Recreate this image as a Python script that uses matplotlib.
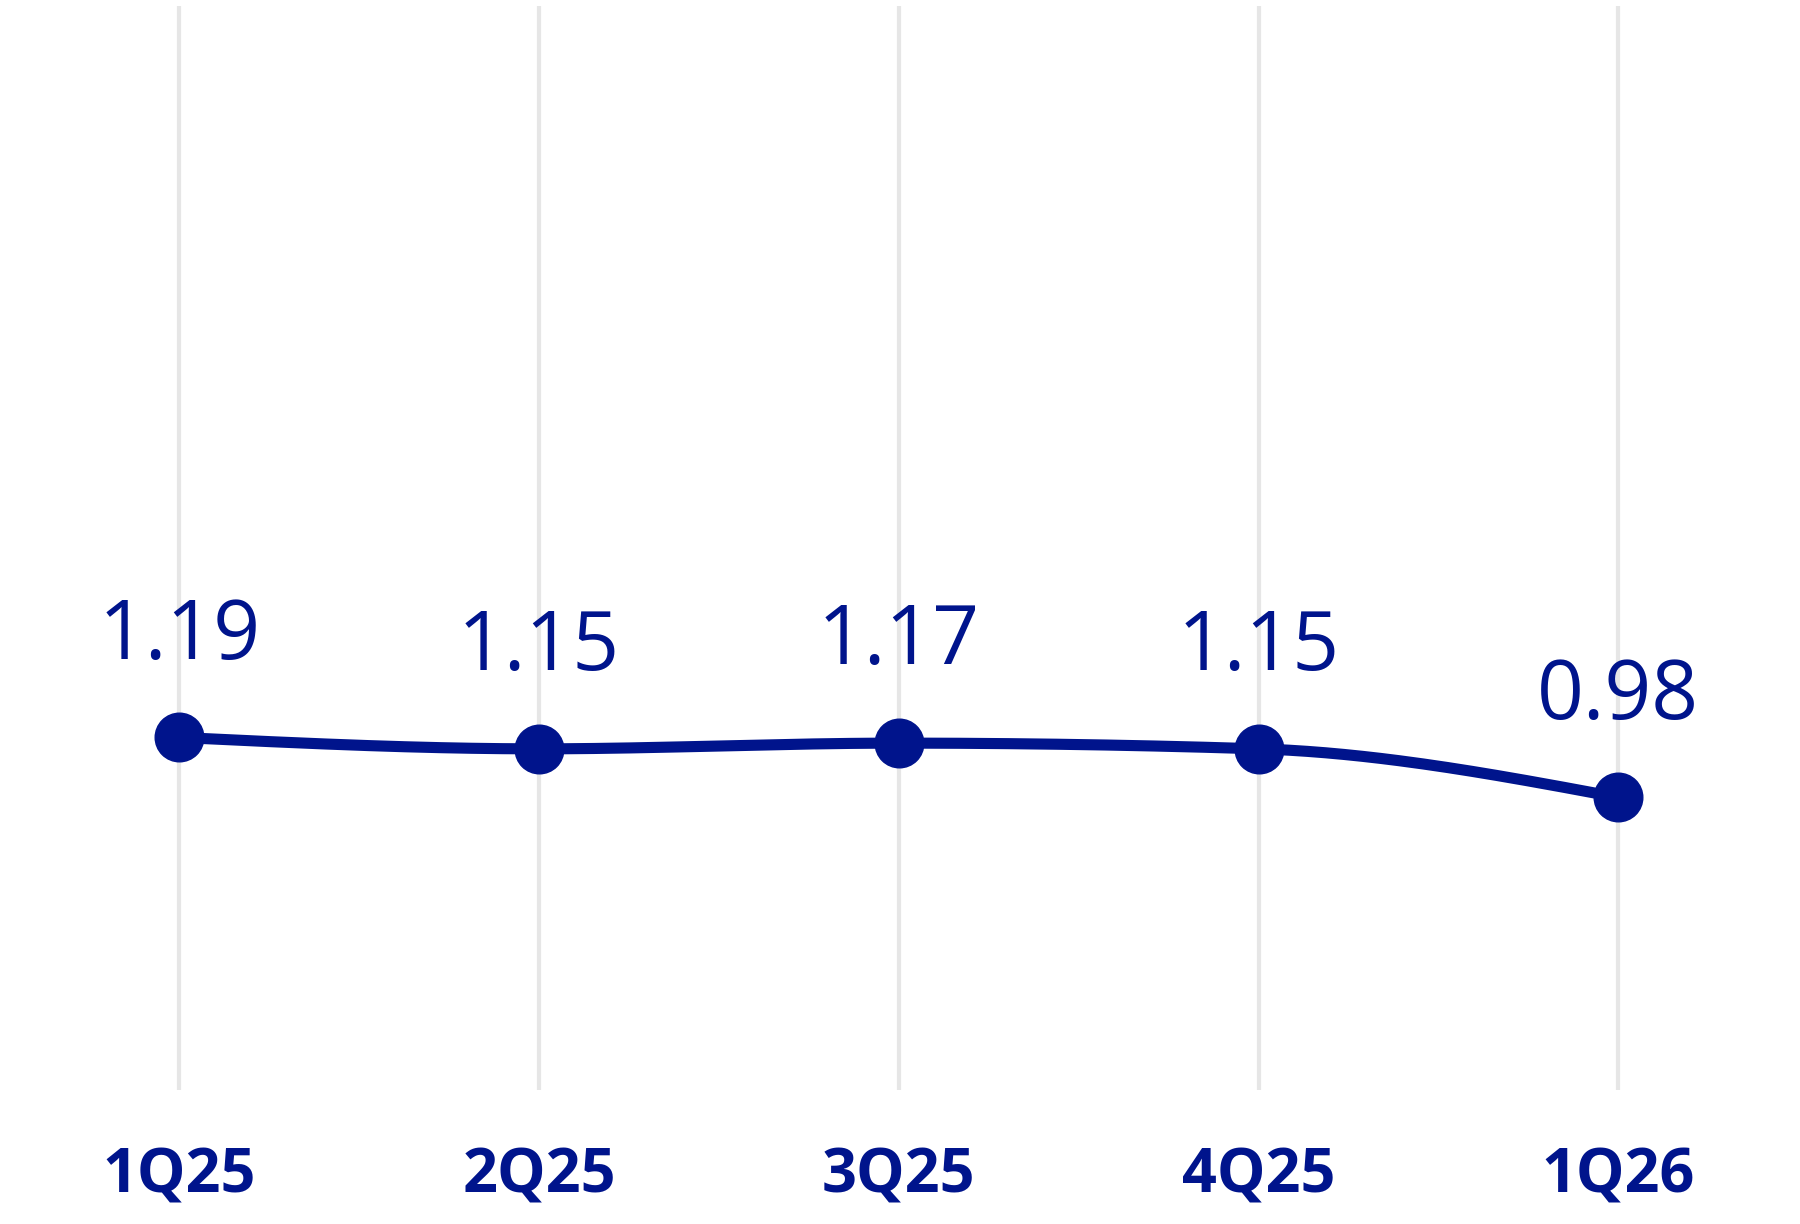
import numpy as np
import matplotlib
matplotlib.use("Agg")
import matplotlib.pyplot as plt

categories = ["1Q25", "2Q25", "3Q25", "4Q25", "1Q26"]
values = [1.19, 1.15, 1.17, 1.15, 0.98]
value_labels = ["1.19", "1.15", "1.17", "1.15", "0.98"]

NAVY = "#00148C"
GRID = "#E6E6E6"


def monotone_curve(x, y, n=60):
    x = np.asarray(x, float)
    y = np.asarray(y, float)
    h = np.diff(x)
    d = np.diff(y) / h
    m = np.zeros_like(y)
    for i in range(1, len(y) - 1):
        if d[i - 1] * d[i] <= 0:
            m[i] = 0.0
        else:
            p = (d[i - 1] * h[i] + d[i] * h[i - 1]) / (h[i - 1] + h[i])
            m[i] = (np.sign(d[i - 1]) + np.sign(d[i])) * min(abs(d[i - 1]), abs(d[i]), 0.5 * abs(p))
    m[0] = (3 * d[0] - m[1]) / 2
    m[-1] = (3 * d[-1] - m[-2]) / 2
    xs, ys = [], []
    for i in range(len(x) - 1):
        t = np.linspace(0, 1, n)
        h00 = 2 * t**3 - 3 * t**2 + 1
        h10 = t**3 - 2 * t**2 + t
        h01 = -2 * t**3 + 3 * t**2
        h11 = t**3 - t**2
        xs.append(x[i] + t * h[i])
        ys.append(h00 * y[i] + h10 * h[i] * m[i] + h01 * y[i + 1] + h11 * h[i] * m[i + 1])
    return np.concatenate(xs), np.concatenate(ys)


fig = plt.figure(figsize=(18, 12.24), dpi=100)
ax = fig.add_axes([0, 0.1095, 1, 0.8856])

xpos = np.arange(len(categories))
cx, cy = monotone_curve(xpos, values)
ax.plot(cx, cy, color=NAVY, lw=8, solid_capstyle="round", zorder=3)
ax.plot(xpos, values, "o", color=NAVY, ms=35, zorder=4)

for xi, v, lab in zip(xpos, values, value_labels):
    ax.annotate(lab, (xi, v), xytext=(0, 72), textcoords="offset points",
                ha="center", va="center", fontsize=59, color=NAVY,
                family="Open Sans")

ax.set_xlim(-0.498, 4.505)
ax.set_ylim(-0.044, 3.750)
ax.set_xticks(xpos)
ax.set_xticklabels(categories, fontsize=44, fontweight="bold", color=NAVY, family="Open Sans")
ax.tick_params(axis="x", length=0, pad=41)
ax.set_yticks([])
ax.grid(axis="x", color=GRID, lw=3, zorder=0)
ax.set_axisbelow(True)
for s in ax.spines.values():
    s.set_visible(False)

fig.savefig("out.png", dpi=100, facecolor="white")
